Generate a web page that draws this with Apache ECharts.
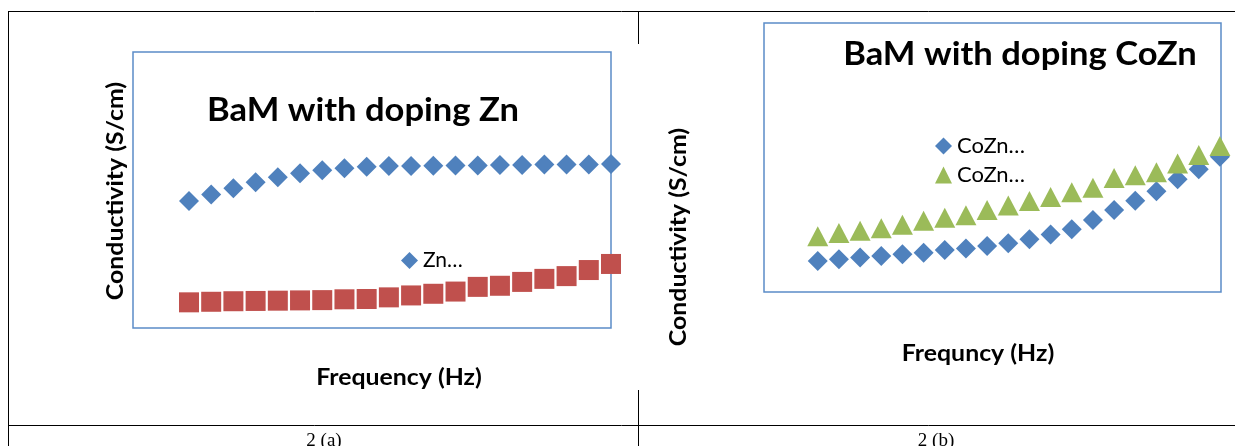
<!DOCTYPE html>
<html><head><meta charset="utf-8">
<script src="https://cdn.jsdelivr.net/npm/echarts@6/dist/echarts.min.js"></script>
<style>html,body{margin:0;padding:0;background:#fff}#c{width:1235px;height:446px}</style>
</head><body><div id="c"></div>
<script>
// frequency step index (arbitrary units, log-spaced frequency points)
const freqSteps = [1,2,3,4,5,6,7,8,9,10,11,12,13,14,15,16,17,18,19,20];
// Fig 2(a) BaM with doping Zn (arbitrary conductivity units)
const znA = [4.60,4.84,5.06,5.28,5.46,5.61,5.72,5.79,5.84,5.87,5.87,5.88,5.89,5.89,5.91,5.91,5.92,5.92,5.92,5.94];
const znB = [0.93,0.95,0.97,0.98,0.99,1.00,1.01,1.04,1.05,1.11,1.18,1.24,1.32,1.49,1.53,1.67,1.78,1.88,2.10,2.32];
// Fig 2(b) BaM with doping CoZn
const coznA = [1.15,1.22,1.28,1.34,1.40,1.46,1.56,1.62,1.71,1.81,1.96,2.14,2.33,2.68,3.05,3.39,3.75,4.19,4.56,5.03];
const coznB = [2.07,2.19,2.28,2.37,2.50,2.65,2.76,2.85,3.05,3.22,3.38,3.53,3.71,3.88,4.24,4.34,4.45,4.78,5.09,5.43];

const pairs = (ys) => freqSteps.map((x,i)=>[x, ys[i]]);
const BLUE = '#4F81BD', RED = '#C0504D', GREEN = '#9BBB59';
const chart = echarts.init(document.getElementById('c'), null, {renderer:'canvas'});
const hiddenAxis = (min,max) => ({type:'value', min, max, axisLine:{show:false}, axisTick:{show:false}, axisLabel:{show:false}, splitLine:{show:false}});
const fam = 'Lato, "Open Sans", sans-serif';
const txt = (x, y, text, size, opts) => Object.assign({type:'text', x, y, scaleX:1.08, silent:true,
  style:{text, font:'bold '+size+'px '+fam, fill:'#000', textAlign:'center', textVerticalAlign:'middle'}}, opts||{});

chart.setOption({
  animation:false,
  backgroundColor:'#fff',
  grid:[
    {left:133, top:52, width:478, height:276, show:true, borderColor:'#5B8CC8', borderWidth:1.5, backgroundColor:'transparent'},
    {left:764, top:23, width:457, height:269, show:true, borderColor:'#5B8CC8', borderWidth:1.5, backgroundColor:'transparent'}
  ],
  xAxis:[Object.assign(hiddenAxis(-1.52,20),{gridIndex:0}), Object.assign(hiddenAxis(-1.54,20.05),{gridIndex:1})],
  yAxis:[Object.assign(hiddenAxis(0,10),{gridIndex:0}), Object.assign(hiddenAxis(0,10),{gridIndex:1})],
  legend:[
    {data:['Zn…'], left:396, top:245, itemWidth:17, itemHeight:17, itemGap:8,
     textStyle:{fontFamily:fam, fontSize:21, color:'#000'}},
    {data:['CoZn… ', 'CoZn…'], orient:'vertical', left:930, top:130, itemWidth:17, itemHeight:17, itemGap:7,
     textStyle:{fontFamily:fam, fontSize:22, color:'#000'}}
  ],
  series:[
    {name:'Zn…', type:'scatter', xAxisIndex:0, yAxisIndex:0, symbol:'diamond', symbolSize:20, clip:false, itemStyle:{color:BLUE, opacity:1}, data:pairs(znA)},
    {name:'Zn… (2)', type:'scatter', xAxisIndex:0, yAxisIndex:0, symbol:'rect', symbolSize:20, clip:false, itemStyle:{color:RED, opacity:1}, data:pairs(znB)},
    {name:'CoZn… ', type:'scatter', xAxisIndex:1, yAxisIndex:1, symbol:'diamond', symbolSize:20, clip:false, itemStyle:{color:BLUE, opacity:1}, data:pairs(coznA)},
    {name:'CoZn…', type:'scatter', xAxisIndex:1, yAxisIndex:1, symbol:'triangle', symbolSize:[21,20], clip:false, itemStyle:{color:GREEN, opacity:1}, data:pairs(coznB)}
  ],
  graphic:[
    // table lines
    {type:'line', shape:{x1:8.5,y1:11,x2:8.5,y2:446}, style:{stroke:'#000', lineWidth:1}, silent:true},
    {type:'line', shape:{x1:8,y1:11.5,x2:1235,y2:11.5}, style:{stroke:'#000', lineWidth:1}, silent:true},
    {type:'line', shape:{x1:8,y1:425.5,x2:1235,y2:425.5}, style:{stroke:'#000', lineWidth:1}, silent:true},
    {type:'line', shape:{x1:638.5,y1:11,x2:638.5,y2:44}, style:{stroke:'#000', lineWidth:1}, silent:true},
    {type:'line', shape:{x1:638.5,y1:390,x2:638.5,y2:446}, style:{stroke:'#000', lineWidth:1}, silent:true},
    // titles
    txt(363, 111, 'BaM with doping Zn', 32),
    txt(1020, 55, 'BaM with doping CoZn', 32),
    // axis names
    Object.assign(txt(116, 191, 'Conductivity (S/cm)', 23), {rotation:Math.PI/2}),
    txt(399, 378, 'Frequency (Hz)', 23),
    Object.assign(txt(679, 237, 'Conductivity (S/cm)', 23), {rotation:Math.PI/2}),
    txt(978, 354, 'Frequncy (Hz)', 23),
    // captions
    {type:'text', x:324, y:441, silent:true, style:{text:'2 (a)', font:'19px "Liberation Serif", serif', fill:'#000', textAlign:'center', textVerticalAlign:'middle'}},
    {type:'text', x:936, y:441, silent:true, style:{text:'2 (b)', font:'19px "Liberation Serif", serif', fill:'#000', textAlign:'center', textVerticalAlign:'middle'}}
  ]
});
</script></body></html>
